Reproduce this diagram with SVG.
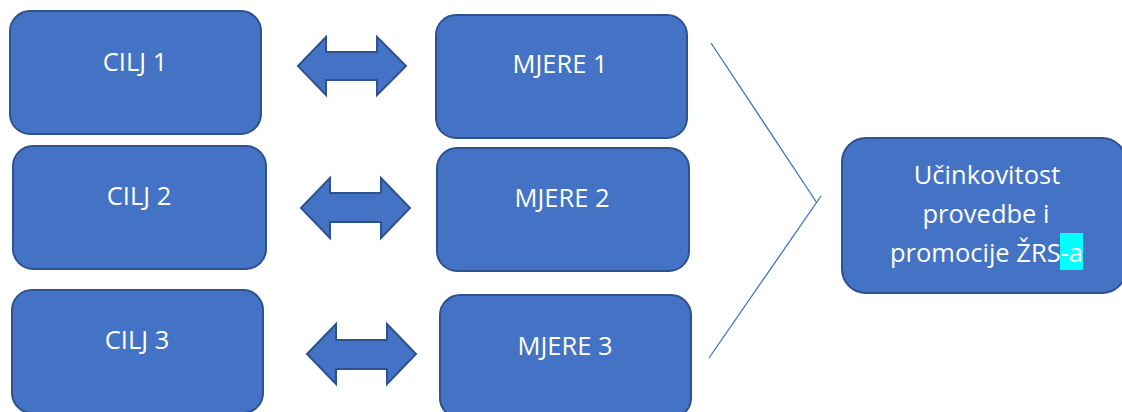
<svg xmlns="http://www.w3.org/2000/svg" width="1122" height="412" viewBox="0 0 1122 412">
<style>
.box{fill:#4472C4;stroke:#2F528F;stroke-width:2}
.arr{fill:#4472C4;stroke:#2F528F;stroke-width:2;stroke-linejoin:miter}
.t{fill:#ffffff;font-family:"Open Sans","Noto Sans",sans-serif;font-size:25.5px;text-anchor:middle}
.ln{stroke:#4472C4;stroke-width:1.3;fill:none}
</style>
<rect width="1122" height="412" fill="#ffffff"/>
<g id="cilj1"><rect class="box" x="10" y="11" width="251" height="123" rx="20"/><text class="t" x="135" y="71">CILJ 1</text></g>
<g id="cilj2"><rect class="box" x="13" y="146" width="253" height="123" rx="20"/><text class="t" x="139" y="205">CILJ 2</text></g>
<g id="cilj3"><rect class="box" x="12" y="290" width="251" height="123" rx="20"/><text class="t" x="137" y="349">CILJ 3</text></g>
<g id="mjere1"><rect class="box" x="436" y="15" width="251" height="123" rx="20"/><text class="t" x="560" y="73">MJERE 1</text></g>
<g id="mjere2"><rect class="box" x="437" y="148" width="252" height="123" rx="20"/><text class="t" x="562" y="207">MJERE 2</text></g>
<g id="mjere3"><rect class="box" x="440" y="295" width="251" height="123" rx="20"/><text class="t" x="565" y="355">MJERE 3</text></g>
<g id="ucinkovitost">
<rect class="box" x="842" y="138" width="284" height="155" rx="24"/>
<rect x="1060" y="233" width="23" height="37" fill="#00FFFF"/>
<text class="t" x="987" y="184">Učinkovitost</text>
<text class="t" x="986" y="223">provedbe i</text>
<text class="t" x="1083" y="262" style="text-anchor:end">promocije ŽRS-a</text>
</g>
<g id="connectors">
<polygon class="arr" points="298,66 326,37 326,52 377,52 377,37 406,66 377,95 377,80 326,80 326,95"/>
<polygon class="arr" points="301,208 330,178 330,193 381,193 381,178 410,208 381,238 381,222 330,222 330,238"/>
<polygon class="arr" points="307,354 336,324 336,340 387,340 387,324 416,354 387,384 387,369 336,369 336,384"/>
<line class="ln" x1="711" y1="43" x2="817" y2="203"/>
<line class="ln" x1="821" y1="196" x2="709" y2="358"/>
</g>
</svg>
